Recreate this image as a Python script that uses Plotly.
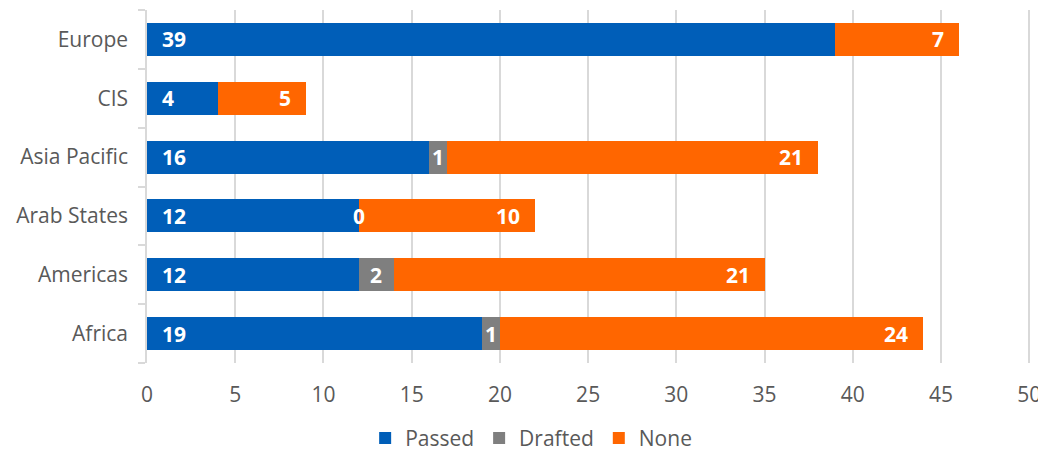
import plotly.graph_objects as go

categories = ["Africa", "Americas", "Arab States", "Asia Pacific", "CIS", "Europe"]
passed = [19, 12, 12, 16, 4, 39]
drafted = [1, 2, 0, 1, None, None]
none_vals = [24, 21, 10, 21, 5, 7]
x_ticks = [0, 5, 10, 15, 20, 25, 30, 35, 40, 45, 50]

BLUE = "#005EB8"
GREY = "#7F7F7F"
ORANGE = "#FF6600"
FONT = "Open Sans"
TXT = "#595959"
LBL = dict(family=FONT, size=21, color="white", weight="bold")

fig = go.Figure()
fig.add_trace(go.Bar(y=categories, x=passed, name="Passed", orientation="h",
                     marker=dict(color=BLUE, line=dict(width=0))))
fig.add_trace(go.Bar(y=categories, x=[d if d is not None else 0 for d in drafted],
                     name="Drafted", orientation="h",
                     marker=dict(color=GREY, line=dict(width=0))))
fig.add_trace(go.Bar(y=categories, x=none_vals, name="None", orientation="h",
                     marker=dict(color=ORANGE, line=dict(width=0))))

annotations = []
for c, p, d, n in zip(categories, passed, drafted, none_vals):
    dv = d if d is not None else 0
    annotations.append(dict(x=0, y=c, xref="x", yref="y", text=str(p), showarrow=False,
                            xanchor="left", xshift=13, font=LBL))
    if d is not None:
        annotations.append(dict(x=p + dv / 2, y=c, xref="x", yref="y", text=str(d),
                                showarrow=False, xanchor="center", font=LBL))
    annotations.append(dict(x=p + dv + n, y=c, xref="x", yref="y", text=str(n),
                            showarrow=False, xanchor="right", xshift=-13, font=LBL))

# the page body adds an 8px margin; size and margins compensate for it
fig.update_layout(
    barmode="stack",
    bargap=0.44,
    width=1038, height=446,
    margin=dict(l=139, r=15, t=2, b=91),
    paper_bgcolor="white", plot_bgcolor="white",
    font=dict(family=FONT, size=21, color=TXT),
    showlegend=True,
    legend=dict(orientation="h", traceorder="normal",
                xref="container", x=0.504, xanchor="center",
                yref="container", y=0.035, yanchor="middle",
                font=dict(family=FONT, size=21, color=TXT),
                itemwidth=30, tracegroupgap=0),
    annotations=annotations,
)
fig.update_xaxes(range=[0, 50.1], tickvals=x_ticks, showgrid=True, gridcolor="#D9D9D9",
                 gridwidth=1.5, zeroline=False, showline=False, ticks="",
                 ticklabelstandoff=17, ticklabeloverflow="allow",
                 tickfont=dict(family=FONT, size=21, color=TXT))
fig.update_yaxes(categoryorder="array", categoryarray=categories, showgrid=False,
                 showline=True, linecolor="#D9D9D9", linewidth=1.5,
                 ticks="outside", tickson="boundaries", ticklen=7, tickcolor="#D9D9D9",
                 tickwidth=1.5, ticklabelstandoff=13,
                 tickfont=dict(family=FONT, size=21, color=TXT))

fig.write_html("out.html")
